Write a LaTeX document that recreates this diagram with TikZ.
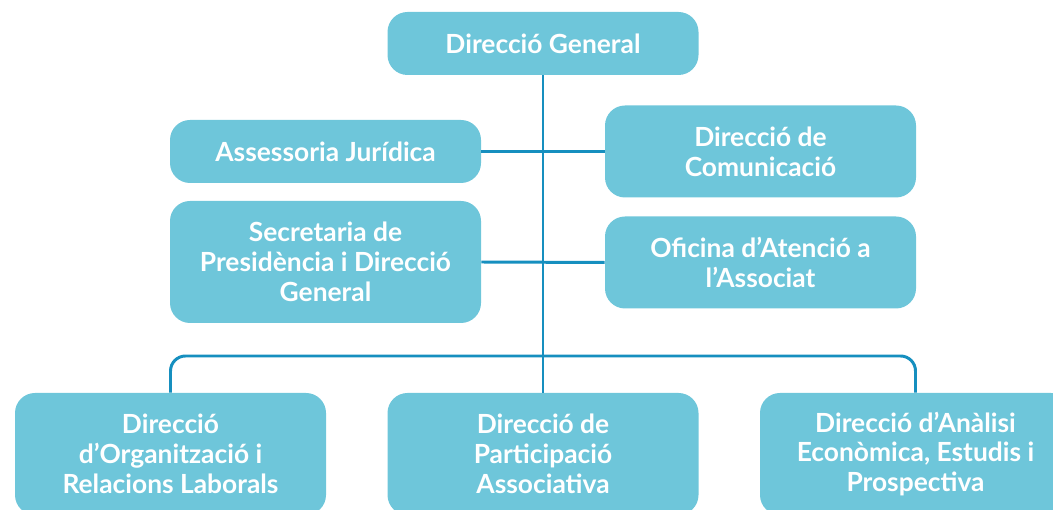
\documentclass[tikz,border=0pt]{standalone}
\usepackage{fontspec}
\setmainfont{Lato}
\usetikzlibrary{positioning}
\definecolor{boxblue}{HTML}{6EC6DA}
\definecolor{lineblue}{HTML}{168FBF}

\begin{document}
\begin{tikzpicture}[node distance=2.16cm,
    unit/.style={fill=boxblue, rounded corners=0.4cm, text=white, align=center,
      font=\bfseries\fontsize{15}{17}\selectfont, minimum width=6.22cm, inner sep=0pt},
    link/.style={draw=lineblue, line width=1.7pt}]
    %
    \clip (0,0) rectangle (21.06,-10.2);
    \node [unit, minimum height=1.26cm] at (10.86,-0.87) (dg) {Direcció General};
    \node [unit, minimum height=1.26cm, below of=dg, xshift=-4.35cm] (aj) {Assessoria Jurídica};
    \node [unit, minimum height=1.84cm, below of=dg, xshift=4.35cm] (com) {Direcció de\\Comunicació};
    \node [unit, minimum height=2.44cm, below of=aj, node distance=2.21cm] (sec) {Secretaria de\\Presidència i Direcció\\General};
    \node [unit, minimum height=1.84cm, below of=com, node distance=2.22cm] (oac) {Oficina d’Atenció a\\l’Associat};
    \node [unit, minimum height=2.44cm, below of=dg, node distance=8.21cm] (pa) {Direcció de\\Participació\\Associativa};
    \node [unit, minimum height=2.44cm, left of=pa, node distance=7.45cm] (oi) {Direcció\\d’Organització i\\Relacions Laborals};
    \node [unit, minimum height=2.44cm, right of=pa, node distance=7.45cm] (ae) {Direcció d’Anàlisi\\Econòmica, Estudis i\\Prospectiva};
    \coordinate [above of=pa, node distance=1.96cm] (bar);
    %
    \path [link] (dg.south) -- (pa.north);
    \path [link] (aj.east) -- (com.west);
    \path [link] (sec.east) -- (oac.west);
    \path [link, rounded corners=0.3cm] (oi.north) |- (bar) -| (ae.north);
\end{tikzpicture}
\end{document}
